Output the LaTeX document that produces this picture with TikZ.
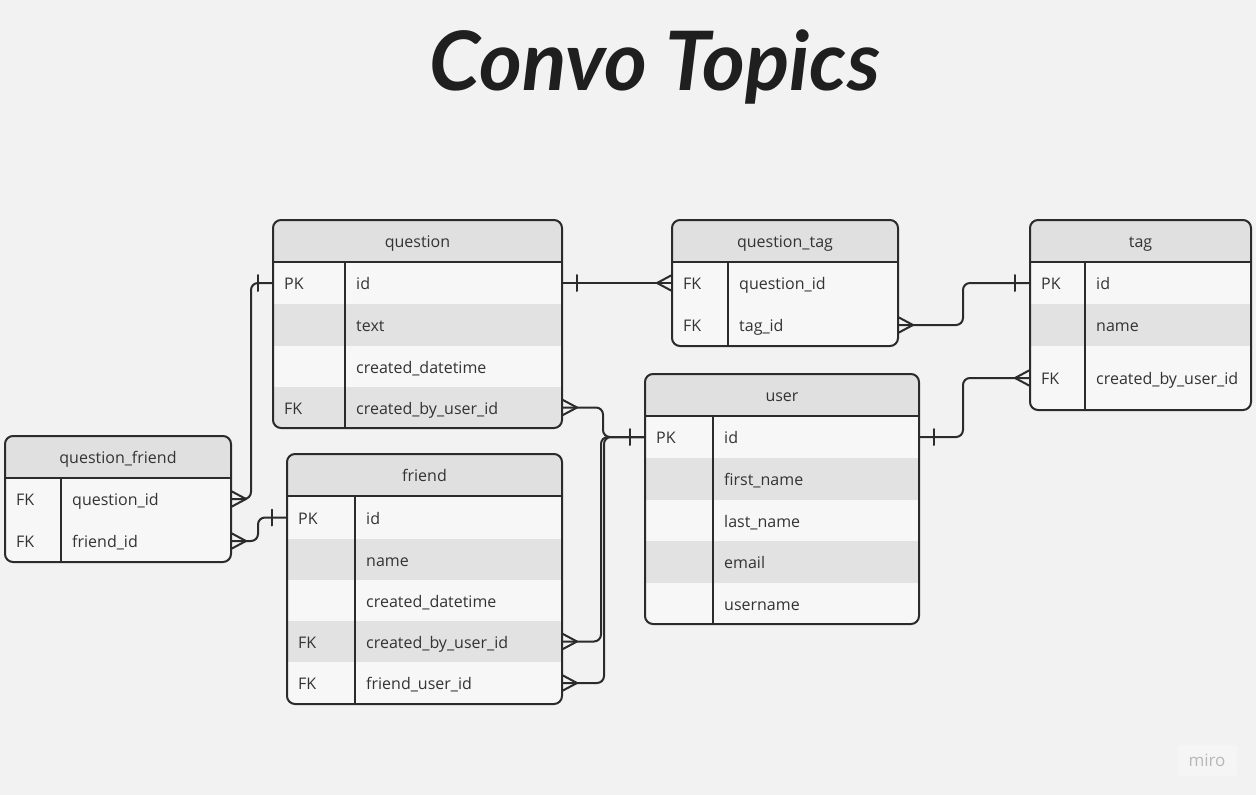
\documentclass[tikz,border=0pt]{standalone}
\usepackage{fontspec}
\setmainfont{Open Sans}
\newfontfamily\titlefont{Lato}
\usetikzlibrary{calc}
\definecolor{bgc}{HTML}{F2F2F2}
\definecolor{ltrow}{HTML}{F7F7F7}
\definecolor{dkrow}{HTML}{E2E2E2}
\definecolor{hdrc}{HTML}{E0E0E0}
\definecolor{linec}{HTML}{2B2B2B}
\definecolor{txtc}{HTML}{333333}
\definecolor{miroc}{HTML}{B8B8B8}
\definecolor{mirobox}{HTML}{F5F5F5}
\tikzset{
  tbl/.style={draw=linec, line width=2pt},
  conn/.style={draw=linec, line width=2pt, line cap=round, line join=round},
  route/.style={conn, rounded corners=7pt},
  celltxt/.style={text=txtc, font=\fontsize{16}{19}\selectfont, anchor=west, inner sep=0pt, yshift=-3pt},
  hdrtxt/.style={text=txtc, font=\fontsize{16}{19}\selectfont, inner sep=0pt, yshift=-3pt},
}
% row: prefix, L, D, R, T, B, fill, key, name
\newcommand\erow[9]{%
  \fill[#7] (#2,#5) rectangle (#4,#6);
  \node[celltxt] (#1-k) at ({#2+11},{(#5+#6)/2}) {\strut #8};
  \node[celltxt] (#1-n) at ({#3+11},{(#5+#6)/2}) {\strut #9};
  \coordinate (#1-l) at (#2,{(#5+#6)/2});
  \coordinate (#1-r) at (#4,{(#5+#6)/2});
}
% frame: name, L, D, R, T, B, title
\newcommand\eframe[7]{%
  \draw[tbl, rounded corners=8pt] (#2,#5) rectangle (#4,#6);
  \draw[tbl] (#2,{#5+42}) -- (#4,{#5+42});
  \draw[tbl] (#3,{#5+42}) -- (#3,#6);
  \node[hdrtxt] (#1) at ({(#2+#4)/2},{#5+21}) {\strut #7};
}
\newcommand\crowR[1]{\draw[conn] (#1) ++(0,-8) -- ++(15,8) -- ++(-15,8);}
\newcommand\crowL[1]{\draw[conn] (#1) ++(0,-8) -- ++(-15,8) -- ++(15,8);}
\newcommand\tickR[1]{\draw[conn] (#1) ++(15,-8) -- ++(0,16);}
\newcommand\tickL[1]{\draw[conn] (#1) ++(-15,-8) -- ++(0,16);}
\begin{document}
\begin{tikzpicture}[x=1pt,y=-1pt]
\useasboundingbox (0,0) rectangle (1256,795);
\fill[bgc] (0,0) rectangle (1256,795);

% title
\node[text=black!88, font=\titlefont\bfseries\itshape\fontsize{82}{90}\selectfont, inner sep=0pt] (title) at (655,67) {Convo Topics};

% ---------- question ----------
\begin{scope}
\clip[rounded corners=8pt] (273,220) rectangle (562,428);
\fill[hdrc] (273,220) rectangle (562,262);
\erow{q-id}{273}{345}{562}{262}{304}{ltrow}{PK}{id}
\erow{q-tx}{273}{345}{562}{304}{346}{dkrow}{}{text}
\erow{q-cd}{273}{345}{562}{346}{387}{ltrow}{}{created\_datetime}
\erow{q-cb}{273}{345}{562}{387}{428}{dkrow}{FK}{created\_by\_user\_id}
\end{scope}
\eframe{question}{273}{345}{562}{220}{428}{question}

% ---------- question_tag ----------
\begin{scope}
\clip[rounded corners=8pt] (672,220) rectangle (898,346);
\fill[hdrc] (672,220) rectangle (898,262);
\erow{qt-qid}{672}{728}{898}{262}{304}{ltrow}{FK}{question\_id}
\erow{qt-tid}{672}{728}{898}{304}{346}{ltrow}{FK}{tag\_id}
\end{scope}
\eframe{question_tag}{672}{728}{898}{220}{346}{question\_tag}

% ---------- tag ----------
\begin{scope}
\clip[rounded corners=8pt] (1030,220) rectangle (1251,410);
\fill[hdrc] (1030,220) rectangle (1251,262);
\erow{t-id}{1030}{1085}{1251}{262}{304}{ltrow}{PK}{id}
\erow{t-nm}{1030}{1085}{1251}{304}{346}{dkrow}{}{name}
\erow{t-cb}{1030}{1085}{1251}{346}{410}{ltrow}{FK}{created\_by\_user\_id}
\end{scope}
\eframe{tag}{1030}{1085}{1251}{220}{410}{tag}

% ---------- user ----------
\begin{scope}
\clip[rounded corners=8pt] (645,374) rectangle (919,624);
\fill[hdrc] (645,374) rectangle (919,416);
\erow{u-id}{645}{713}{919}{416}{458}{ltrow}{PK}{id}
\erow{u-fn}{645}{713}{919}{458}{500}{dkrow}{}{first\_name}
\erow{u-ln}{645}{713}{919}{500}{541}{ltrow}{}{last\_name}
\erow{u-em}{645}{713}{919}{541}{583}{dkrow}{}{email}
\erow{u-un}{645}{713}{919}{583}{624}{ltrow}{}{username}
\end{scope}
\eframe{user}{645}{713}{919}{374}{624}{user}

% ---------- question_friend ----------
\begin{scope}
\clip[rounded corners=8pt] (5,436) rectangle (231,562);
\fill[hdrc] (5,436) rectangle (231,478);
\erow{qf-qid}{5}{61}{231}{478}{520}{ltrow}{FK}{question\_id}
\erow{qf-fid}{5}{61}{231}{520}{562}{ltrow}{FK}{friend\_id}
\end{scope}
\eframe{question_friend}{5}{61}{231}{436}{562}{question\_friend}

% ---------- friend ----------
\begin{scope}
\clip[rounded corners=8pt] (287,454) rectangle (562,704);
\fill[hdrc] (287,454) rectangle (562,496);
\erow{f-id}{287}{355}{562}{496}{539}{ltrow}{PK}{id}
\erow{f-nm}{287}{355}{562}{539}{580}{dkrow}{}{name}
\erow{f-cd}{287}{355}{562}{580}{621}{ltrow}{}{created\_datetime}
\erow{f-cb}{287}{355}{562}{621}{662}{dkrow}{FK}{created\_by\_user\_id}
\erow{f-fu}{287}{355}{562}{662}{704}{ltrow}{FK}{friend\_user\_id}
\end{scope}
\eframe{friend}{287}{355}{562}{454}{704}{friend}

% ---------- connectors ----------
% question.id -- question_tag.question_id
\draw[conn] (q-id-r) -- (qt-qid-l);
\tickR{q-id-r}
\crowL{qt-qid-l}
% question_tag.tag_id -- tag.id
\draw[route] (qt-tid-r) -- ++(65,0) |- (t-id-l);
\crowR{qt-tid-r}
\tickL{t-id-l}
% user.id -- tag.created_by_user_id
\draw[route] (u-id-r) -- ++(44,0) |- (t-cb-l);
\tickR{u-id-r}
\crowL{t-cb-l}
% question.created_by_user_id -- user.id
\draw[route] (q-cb-r) -- ++(41,0) |- (u-id-l);
\crowR{q-cb-r}
% friend.created_by_user_id -- user.id
\draw[route] (f-cb-r) -- ++(39,0) |- (u-id-l);
\crowR{f-cb-r}
% friend.friend_user_id -- user.id
\draw[route] (f-fu-r) -- ++(42,0) |- (u-id-l);
\crowR{f-fu-r}
\tickL{u-id-l}
% question_friend.question_id -- question.id
\draw[route] (qf-qid-r) -- ++(20,0) |- (q-id-l);
\crowR{qf-qid-r}
\tickL{q-id-l}
% question_friend.friend_id -- friend.id
\draw[route] (qf-fid-r) -- ++(27,0) |- (f-id-l);
\crowR{qf-fid-r}
\tickL{f-id-l}

% miro mark
\fill[mirobox, rounded corners=3pt] (1178,745) rectangle (1237,776);
\node[text=miroc, font=\fontsize{17}{20}\selectfont, inner sep=0pt] (miro) at (1207,760) {miro};
\end{tikzpicture}
\end{document}
